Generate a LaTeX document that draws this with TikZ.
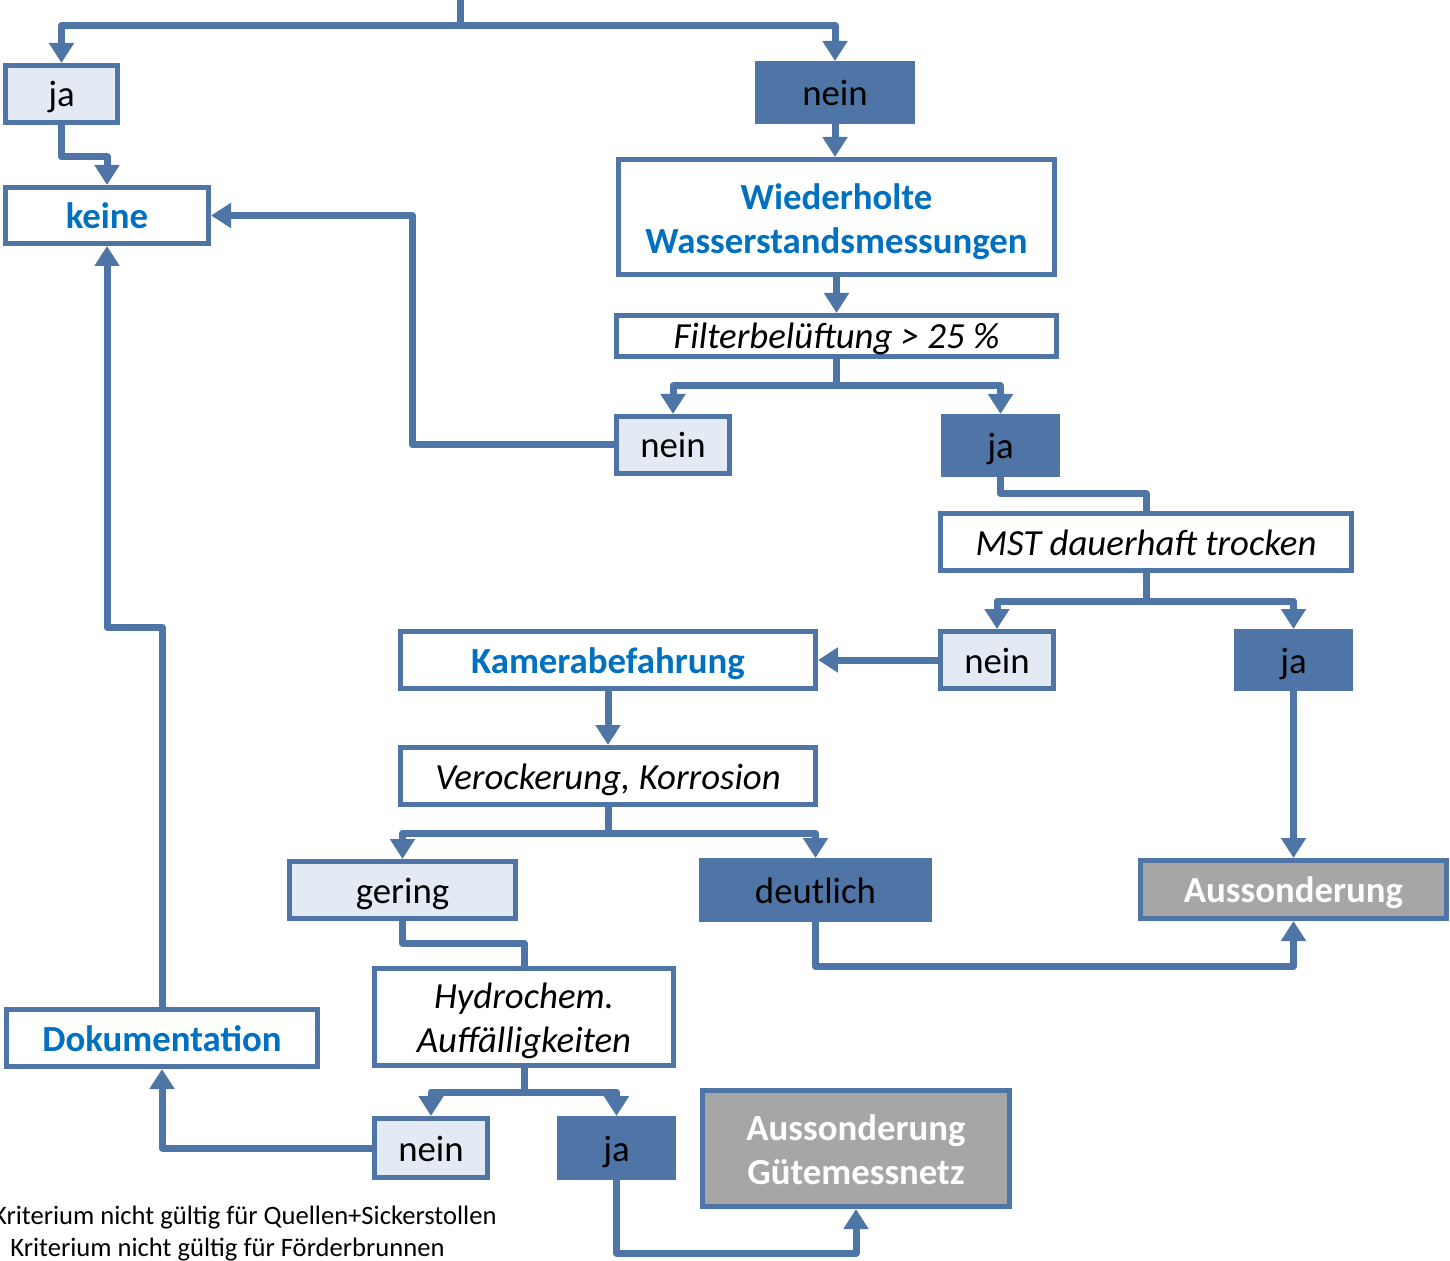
\documentclass[tikz,border=0pt]{standalone}
\usepackage{fontspec}
\setmainfont{Carlito}
\usetikzlibrary{arrows.meta}
\definecolor{bord}{RGB}{79,117,166}
\definecolor{lite}{RGB}{228,234,244}
\definecolor{greyf}{RGB}{166,166,166}
\definecolor{txtblue}{RGB}{0,112,192}
% single-line box
\newcommand\bx[7]{\node[#6, text height=16pt, text depth=3pt, minimum width={(#4-#2-5)*0.5pt}, minimum height={(#5-#3-5)*0.5pt}] (#1) at ({(#2+#4)/2},{(#3+#5)/2}) {#7};}
% multi-line box: frame node plus text node (#8 = downward text shift)
\newcommand\bxm[8]{\node[#6, minimum width={(#4-#2-5)*0.5pt}, minimum height={(#5-#3-5)*0.5pt}] (#1) at ({(#2+#4)/2},{(#3+#5)/2}) {};
  \node[#6, draw=none, fill=none, minimum width=0pt, minimum height=0pt] (#1-t) at ([yshift=-#8]#1.center) {#7};}
\tikzset{
  box/.style={draw=bord, line width=2.5pt, inner sep=0pt, align=center, font=\fontsize{18.4}{22}\selectfont},
  lbox/.style={box, fill=lite},
  dbox/.style={box, fill=bord},
  wbox/.style={box, fill=white, text=txtblue, font=\fontsize{18.4}{22}\selectfont\bfseries},
  ibox/.style={box, fill=white, font=\fontsize{18.4}{22}\selectfont\itshape},
  gbox/.style={box, fill=greyf, text=white, font=\fontsize{18.4}{22}\selectfont\bfseries},
  conn/.style={draw=bord, line width=3.5pt, line join=round},
  arr/.style={conn, -{Triangle[width=12pt,length=10pt]}},
  note/.style={inner sep=0pt, font=\fontsize{13.3}{15}\selectfont}
}
\begin{document}
\begin{tikzpicture}[x=0.5pt,y=-0.5pt]
\useasboundingbox (0,0) rectangle (1450,1261);
% boxes
\bx{ja1}{3}{63}{120}{125}{lbox}{ja}
\bx{nein1}{755}{61}{915}{124}{dbox}{nein}
\bx{keine}{3}{185}{211}{246}{wbox}{keine}
\bxm{wied}{616}{157}{1057}{277}{wbox}{Wiederholte\\Wasserstandsmessungen}{2.5pt}
\bx{filt}{614}{313}{1059}{359}{ibox}{Filterbelüftung > 25 \%}
\bx{nein2}{614}{414}{732}{476}{lbox}{nein}
\bx{ja2}{941}{414}{1060}{477}{dbox}{ja}
\bx{mst}{938}{511}{1354}{573}{ibox}{MST dauerhaft trocken}
\bx{kam}{398}{629}{818}{691}{wbox}{Kamerabefahrung}
\bx{nein3}{938}{629}{1056}{691}{lbox}{nein}
\bx{ja3}{1234}{629}{1353}{691}{dbox}{ja}
\bx{ver}{398}{745}{818}{807}{ibox}{Verockerung, Korrosion}
\bx{ger}{287}{859}{518}{921}{lbox}{gering}
\bx{deut}{699}{858}{932}{922}{dbox}{deutlich}
\bx{auss}{1138}{858}{1449}{921}{gbox}{Aussonderung}
\bxm{hyd}{372}{966}{676}{1068}{ibox}{Hydrochem.\\Auffälligkeiten}{2pt}
\bx{doku}{4}{1007}{320}{1069}{wbox}{Dokumentation}
\bx{nein4}{372}{1116}{490}{1180}{lbox}{nein}
\bx{ja4}{557}{1116}{676}{1180}{dbox}{ja}
\bxm{guete}{700}{1088}{1012}{1209}{gbox}{Aussonderung\\Gütemessnetz}{0.5pt}
% notes
\node[note, anchor=base east] (n1) at (497,1224) {Kriterium nicht gültig für Quellen+Sickerstollen};
\node[note, anchor=base east] (n2) at (445,1256) {Kriterium nicht gültig für Förderbrunnen};
% connectors
\coordinate (topin) at (460,0);
\coordinate (hbar) at (460,26);
\draw[conn] (topin) -- (hbar);
\draw[arr] (hbar) -| (ja1.north);
\draw[arr] (hbar) -| (nein1.north);
\draw[arr] (ja1.south) -- ++(0,32) -| (keine.north);
\draw[arr] (nein1.south) -- (nein1.south |- wied.north);
\draw[arr] (wied.south) -- (wied.south |- filt.north);
\coordinate (fs) at (838,386);
\draw[conn] (filt.south) -- (filt.south |- fs);
\draw[arr] (filt.south |- fs) -| (nein2.north);
\draw[arr] (filt.south |- fs) -| (ja2.north);
\coordinate (k1) at (412,0);
\draw[arr] (nein2.west) -| (k1 |- keine.east) -- (keine.east);
\draw[conn] (ja2.south) -- ++(0,17) -| (mst.north);
\coordinate (ms) at (1146,601);
\draw[conn] (mst.south) -- (mst.south |- ms);
\draw[arr] (mst.south |- ms) -| (nein3.north);
\draw[arr] (mst.south |- ms) -| (ja3.north);
\draw[arr] (nein3.west) -- (nein3.west -| kam.east);
\draw[arr] (kam.south) -- (kam.south |- ver.north);
\draw[arr] (ja3.south) -- (ja3.south |- auss.north);
\coordinate (vs) at (608,833);
\draw[conn] (ver.south) -- (ver.south |- vs);
\draw[arr] (ver.south |- vs) -| (ger.north);
\draw[arr] (ver.south |- vs) -| (deut.north);
\draw[arr] (deut.south) -- ++(0,44) -| (auss.south);
\draw[conn] (ger.south) -- ++(0,22) -| (hyd.north);
\coordinate (hs) at (524,1092);
\draw[conn] (hyd.south) -- (hyd.south |- hs);
\draw[arr] (hyd.south |- hs) -| (nein4.north);
\draw[arr] (hyd.south |- hs) -| (ja4.north);
\draw[arr] (nein4.west) -| (doku.south);
\draw[arr] (ja4.south) -- ++(0,73) -| (guete.south);
\draw[arr] (doku.north) -- ++(0,-380) -| (keine.south);
\end{tikzpicture}
\end{document}
